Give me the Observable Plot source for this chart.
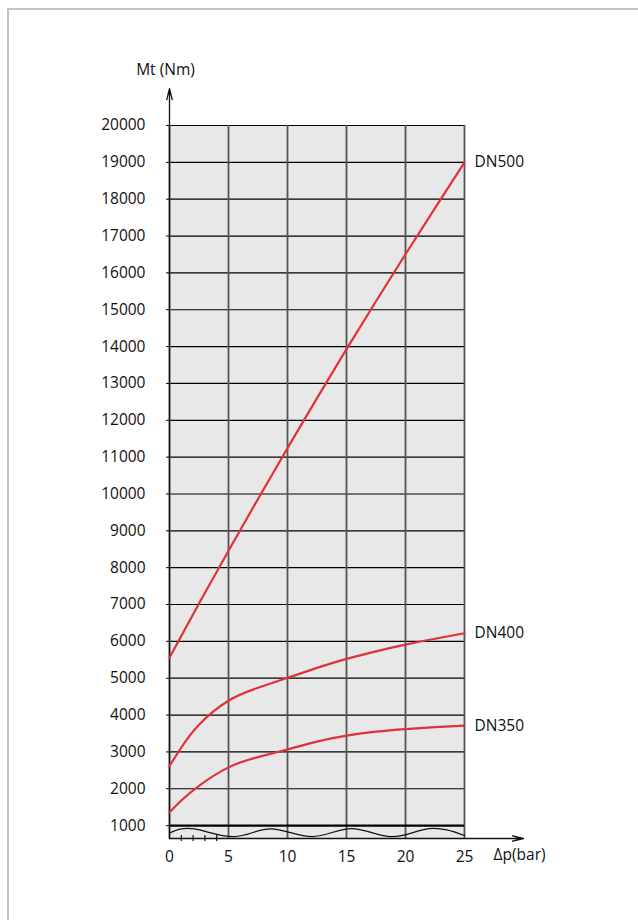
<!DOCTYPE html>
<html>
<head>
<meta charset="utf-8">
<script src="https://cdn.jsdelivr.net/npm/d3@7"></script>
<script src="https://cdn.jsdelivr.net/npm/@observablehq/plot@0.6"></script>
<style>
  html, body { margin: 0; padding: 0; background: #fff; }
  #wrap { position: relative; width: 638px; height: 920px; overflow: hidden; }
  #border { position: absolute; left: 7px; top: 8px; right: -10px; bottom: -10px;
            border-left: 2px solid #c4c4c4; border-top: 2px solid #c4c4c4; }
  #chart { position: absolute; left: 0; top: 0; }
</style>
</head>
<body>
<div id="wrap"><div id="border"></div><div id="chart"></div></div>
<script>
// ---- data ----
const xTicks = [0, 5, 10, 15, 20, 25];
const xMinorTicks = [1, 2, 3, 4];
const yTicks = [1000, 2000, 3000, 4000, 5000, 6000, 7000, 8000, 9000, 10000,
                11000, 12000, 13000, 14000, 15000, 16000, 17000, 18000, 19000, 20000];
const yLabel = "Mt (Nm)";
const xLabel = "Δp(bar)";

const dn500X = [0, 2.5, 5, 7.5, 10, 12.5, 15, 17.5, 20, 22.5, 25];
const dn500Y = [5560, 7030, 8460, 9865, 11245, 12600, 13930, 15230, 16505, 17760, 19000];

const dn400X = [0, 1, 2.5, 5, 7.5, 10, 12.5, 15, 17.5, 20, 22.5, 25];
const dn400Y = [2620, 3120, 3740, 4390, 4740, 5010, 5280, 5525, 5730, 5910, 6070, 6220];

const dn350X = [0, 1, 2.5, 5, 7.5, 10, 12.5, 15, 17.5, 20, 22.5, 25];
const dn350Y = [1360, 1680, 2080, 2580, 2860, 3070, 3280, 3440, 3550, 3620, 3670, 3715];

const seriesNames = ["DN500", "DN400", "DN350"];

// axis-break wave (peaks / troughs)
const waveX = [0, 2.1, 5.5, 8.6, 12.1, 15.4, 18.8, 22, 25];
const waveY = [800, 910, 700, 910, 700, 920, 700, 920, 730];

const xDomain = [0, 25];
const yDomain = [650, 20000];
const xArrowEnd = 30;
const yArrowEnd = 21000;

// ---- build ----
const red = "#e1313b";
const font = "'Open Sans', 'Noto Sans', sans-serif";
const fs = 15.5;

const toRows = (xs, ys, name) => xs.map((x, i) => ({x, y: ys[i], name}));
const curves = [
  ...toRows(dn500X, dn500Y, seriesNames[0]),
  ...toRows(dn400X, dn400Y, seriesNames[1]),
  ...toRows(dn350X, dn350Y, seriesNames[2])
];
const ends = seriesNames.map(n => curves.filter(d => d.name === n).at(-1));
const wave = waveX.map((x, i) => ({x, y: waveY[i]}));

const chart = Plot.plot({
  width: 638,
  height: 920,
  marginTop: 125,
  marginBottom: 82,
  marginLeft: 169,
  marginRight: 174,
  style: {fontFamily: font, fontSize: fs + "px", color: "#111", background: "transparent"},
  x: {domain: xDomain},
  y: {domain: yDomain},
  marks: [
    Plot.frame({fill: "#e7e8e7", stroke: null}),
    Plot.ruleY(yTicks.slice(1), {stroke: "#000", strokeWidth: 1.2}),
    Plot.ruleX(xTicks, {stroke: "#555", strokeWidth: 1.8}),
    Plot.ruleY([yTicks[0]], {stroke: "#000", strokeWidth: 2.4}),
    Plot.line(wave, {x: "x", y: "y", curve: "natural", stroke: "#111", strokeWidth: 1.2}),
    Plot.arrow([{x1: xDomain[0], y1: yDomain[0], x2: xArrowEnd, y2: yDomain[0]}],
      {x1: "x1", y1: "y1", x2: "x2", y2: "y2", stroke: "#111", strokeWidth: 1.3, headAngle: 28, headLength: 13}),
    Plot.arrow([{x1: xDomain[0], y1: yDomain[0], x2: xDomain[0], y2: yArrowEnd}],
      {x1: "x1", y1: "y1", x2: "x2", y2: "y2", stroke: "#111", strokeWidth: 1.3, headAngle: 28, headLength: 13}),
    Plot.ruleX(xMinorTicks, {y1: yDomain[0], y2: yDomain[0], insetTop: -3, insetBottom: -3, stroke: "#111", strokeWidth: 1.2}),
    Plot.axisY(yTicks, {tickSize: 3, tickPadding: 21, label: null, fontSize: fs, stroke: "#000", tickFormat: d3.format("d")}),
    Plot.axisX(xTicks, {tickSize: 0, tickPadding: 12, label: null, fontSize: fs, tickFormat: d3.format("d")}),
    Plot.line(curves, {x: "x", y: "y", z: "name", curve: "natural", stroke: red, strokeWidth: 2.2}),
    Plot.text(ends, {x: "x", y: "y", text: "name", dx: 10, textAnchor: "start", fontSize: fs, fill: "#111"}),
    Plot.text([yLabel], {x: xDomain[0], y: yArrowEnd, text: d => d, dx: -4, dy: -19, fontSize: fs, fill: "#111"}),
    Plot.text([xLabel], {x: xDomain[1], y: yDomain[0], text: d => d, dx: 29, dy: 17, textAnchor: "start", fontSize: fs, fill: "#111"})
  ]
});
document.getElementById("chart").appendChild(chart);
</script>
</body>
</html>
